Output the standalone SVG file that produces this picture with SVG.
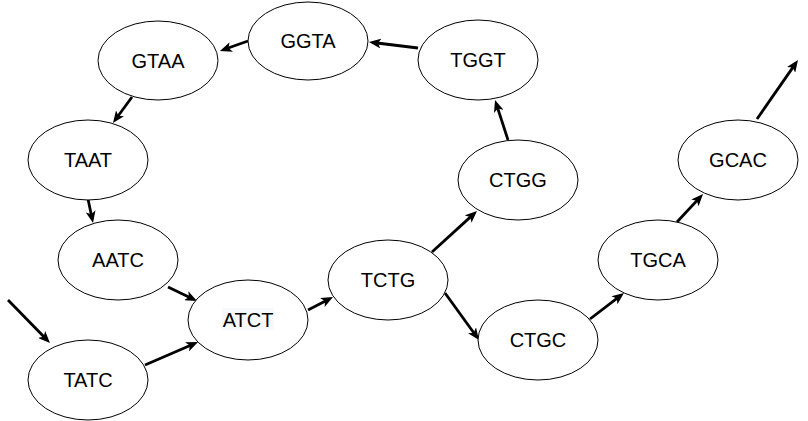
<svg xmlns="http://www.w3.org/2000/svg" width="808" height="421" viewBox="0 0 808 421">
<style>
.node ellipse{fill:#fff;stroke:#000;stroke-width:1}
.node text{font-family:"Liberation Sans",Arial,sans-serif;font-size:20px;fill:#000;text-anchor:middle}
.edge{stroke:#000;stroke-width:2.8;fill:none;marker-end:url(#arr)}
</style>
<defs>
<marker id="arr" viewBox="0 0 12 10" refX="4" refY="5" markerWidth="12" markerHeight="10" markerUnits="userSpaceOnUse" orient="auto">
<path d="M0,0 L12,5 L0,10 L3,5 z" fill="#000"/>
</marker>
</defs>
<rect width="808" height="421" fill="#fff"/>
<g id="connectors">
<line class="edge" x1="248" y1="41" x2="227.5" y2="48.3"/>
<line class="edge" x1="418" y1="48" x2="376.9" y2="43"/>
<line class="edge" x1="132" y1="97" x2="117.7" y2="116.5"/>
<line class="edge" x1="88" y1="199" x2="91.4" y2="215.2"/>
<line class="edge" x1="168" y1="287" x2="189.8" y2="297.5"/>
<line class="edge" x1="8" y1="300" x2="44.4" y2="337.3"/>
<line class="edge" x1="145" y1="365" x2="190.7" y2="345.2"/>
<line class="edge" x1="308" y1="310" x2="325.9" y2="300.7"/>
<line class="edge" x1="432" y1="252" x2="471.1" y2="216.4"/>
<line class="edge" x1="445" y1="293" x2="474.3" y2="333.5"/>
<line class="edge" x1="590" y1="319" x2="617.6" y2="297.9"/>
<line class="edge" x1="677" y1="222" x2="697.6" y2="199.9"/>
<line class="edge" x1="508" y1="140" x2="497.5" y2="107.6"/>
<line class="edge" x1="757" y1="119" x2="793.4" y2="66.6"/>
</g>
<g id="GGTA" class="node"><ellipse cx="308" cy="41" rx="60" ry="39"/><text x="308" y="48">GGTA</text></g>
<g id="GTAA" class="node"><ellipse cx="158" cy="60.5" rx="60" ry="39.5"/><text x="158" y="67.5">GTAA</text></g>
<g id="TGGT" class="node"><ellipse cx="478" cy="60" rx="60" ry="40"/><text x="478" y="67">TGGT</text></g>
<g id="TAAT" class="node"><ellipse cx="88" cy="160" rx="60" ry="40"/><text x="88" y="167">TAAT</text></g>
<g id="CTGG" class="node"><ellipse cx="518" cy="180" rx="60" ry="40"/><text x="518" y="187">CTGG</text></g>
<g id="GCAC" class="node"><ellipse cx="738" cy="160" rx="60" ry="40"/><text x="738" y="167">GCAC</text></g>
<g id="AATC" class="node"><ellipse cx="118" cy="260" rx="60" ry="40"/><text x="118" y="267">AATC</text></g>
<g id="TCTG" class="node"><ellipse cx="388" cy="280" rx="60" ry="40"/><text x="388" y="287">TCTG</text></g>
<g id="TGCA" class="node"><ellipse cx="658" cy="260" rx="60" ry="40"/><text x="658" y="267">TGCA</text></g>
<g id="ATCT" class="node"><ellipse cx="248" cy="320" rx="60" ry="40"/><rect x="222" y="308" width="52" height="22" fill="#f8f9fa"/><text x="248" y="327">ATCT</text></g>
<g id="CTGC" class="node"><ellipse cx="538" cy="340" rx="60" ry="40"/><text x="538" y="347">CTGC</text></g>
<g id="TATC" class="node"><ellipse cx="88" cy="380" rx="60" ry="40"/><text x="88" y="387">TATC</text></g>
</svg>
